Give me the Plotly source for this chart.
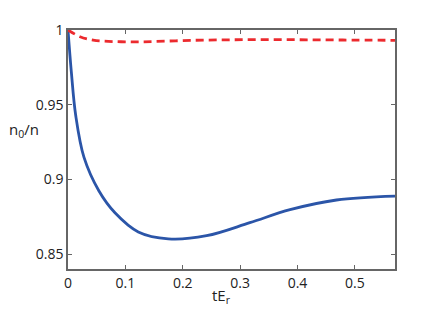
import plotly.graph_objects as go

# values
t_blue = [0.0, 0.0058, 0.0134, 0.0279, 0.054, 0.0819, 0.1225, 0.1748, 0.2416, 0.317,
          0.387, 0.468, 0.57]
n_blue = [1.0, 0.972, 0.9429, 0.9147, 0.8922, 0.8776, 0.8648, 0.8602, 0.8623, 0.871,
          0.8797, 0.8862, 0.8888]

t_red = [0.0, 0.021, 0.044, 0.07, 0.1, 0.131, 0.218, 0.305, 0.392, 0.479, 0.57]
n_red = [1.0, 0.9955, 0.9932, 0.9924, 0.9921, 0.9921, 0.9931, 0.9935, 0.9935, 0.9933, 0.9931]

x_ticks = [0, 0.1, 0.2, 0.3, 0.4, 0.5]
x_labels = ["0", "0.1", "0.2", "0.3", "0.4", "0.5"]
y_ticks = [0.85, 0.9, 0.95, 1.0]
y_labels = ["0.85", "0.9", "0.95", "1"]

font = dict(family="Open Sans", size=14, color="#222")

fig = go.Figure()
fig.add_trace(go.Scatter(x=t_blue, y=n_blue, mode="lines",
                         line=dict(color="#2b55a8", width=2.8, shape="spline", smoothing=1.0)))
fig.add_trace(go.Scatter(x=t_red, y=n_red, mode="lines",
                         line=dict(color="#ec2a2e", width=2.8, dash="8px,5px",
                                   shape="spline", smoothing=1.0)))

axis_common = dict(showgrid=False, zeroline=False, showline=True, linecolor="#666",
                   linewidth=1.5, mirror="ticks", ticks="inside", ticklen=4,
                   tickcolor="#666", tickfont=font)

# page body adds an 8px offset, so the figure is drawn 8px smaller
fig.update_layout(
    width=428, height=310,
    margin=dict(l=60, r=41, t=16, b=49),
    paper_bgcolor="white", plot_bgcolor="white",
    showlegend=False,
    xaxis=dict(range=[0, 0.57], tickvals=x_ticks, ticktext=x_labels, **axis_common),
    yaxis=dict(range=[0.84, 1.0], tickvals=y_ticks, ticktext=y_labels, **axis_common),
    annotations=[
        dict(text="n<sub>0</sub>/n", xref="paper", yref="paper", x=-0.135, y=0.58,
             xanchor="center", yanchor="middle", showarrow=False,
             font=dict(family="Open Sans", size=15, color="#222")),
        dict(text="tE<sub>r</sub>", xref="paper", yref="paper", x=0.47, y=-0.115,
             xanchor="center", yanchor="middle", showarrow=False,
             font=dict(family="Open Sans", size=15, color="#222")),
    ],
)

fig.write_html("out.html")
